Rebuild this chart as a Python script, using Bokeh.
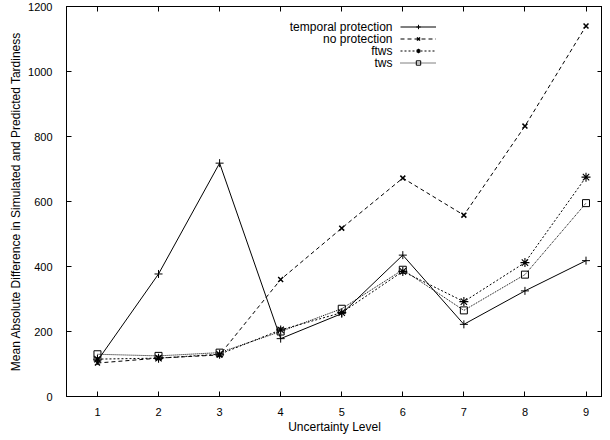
from bokeh.plotting import figure
from bokeh.models import (LinearAxis, Range1d, FixedTicker, Legend, LegendItem, Label,
                          CustomLabelingPolicy)
from bokeh.core.properties import value
from bokeh.embed import file_html
from bokeh.resources import INLINE

levels = [1, 2, 3, 4, 5, 6, 7, 8, 9]
temporal_protection = [110, 377, 718, 178, 255, 435, 222, 325, 418]
no_protection = [103, 118, 128, 360, 518, 672, 558, 832, 1140]
ftws = [115, 118, 130, 205, 258, 385, 292, 412, 675]
tws = [130, 125, 135, 200, 270, 390, 265, 375, 595]
series_names = ["temporal protection", "no protection", "ftws", "tws"]
y_ticks = [0, 200, 400, 600, 800, 1000, 1200]
x_ticks = levels

FONT = "Liberation Sans"
H = 436
TOP = 6
BOTTOM = 39

p = figure(width=602, height=H, output_backend="svg", toolbar_location=None,
           x_range=Range1d(0.493, 9.27), y_range=Range1d(0, 1200),
           min_border_left=66, min_border_right=0, min_border_top=TOP, min_border_bottom=BOTTOM,
           x_axis_label="Uncertainty Level",
           y_axis_label="Mean Absolute Difference in Simulated and Predicted Tardiness")
p.xgrid.visible = False
p.ygrid.visible = False
p.outline_line_color = "black"
p.outline_line_width = 1
p.background_fill_color = "white"
p.border_fill_color = "white"

p.add_layout(LinearAxis(), "above")
p.add_layout(LinearAxis(), "right")

for ax in p.xaxis:
    ax.ticker = FixedTicker(ticks=x_ticks)
for ax in p.yaxis:
    ax.ticker = FixedTicker(ticks=y_ticks)
for ax in p.axis:
    ax.major_tick_in = 5
    ax.major_tick_out = 0
    ax.minor_tick_line_color = None
    ax.axis_line_color = "black"
    ax.major_tick_line_color = "black"
    ax.major_label_text_font = FONT
    ax.major_label_text_font_size = "11px"
    ax.major_label_text_color = "black"
    ax.axis_label_text_font = FONT
    ax.axis_label_text_font_size = "12px"
    ax.axis_label_text_font_style = "normal"
    ax.axis_label_text_color = "black"

# mirror axes: ticks only, no labels drawn
hide_all = CustomLabelingPolicy(code="""
    const ids = [...indices]
    for (const i of ids) indices.unset(i)
    return indices
""")
for ax in (p.above[0], p.right[0]):
    ax.major_label_policy = hide_all
    ax.major_label_text_font_size = "0px"
    ax.major_label_standoff = 0
    ax.axis_label_standoff = 0

p.below[0].major_label_standoff = 11
p.below[0].axis_label_standoff = 1
p.left[0].major_label_standoff = 14
p.left[0].axis_label_standoff = 2

items = []
styles = [
    (temporal_protection, None, "cross", 8, 1, "black"),
    (no_protection, "4 3", "x", 7, 1.5, "black"),
    (ftws, "2 2", "asterisk", 9, 1.1, "black"),
    (tws, "1 1", "square", 7, 1, None),
]
for name, (ys, dash, marker, size, mlw, fill) in zip(series_names, styles):
    if dash is None:
        ln = p.line(levels, ys, line_color="black", line_width=1)
    else:
        ln = p.line(levels, ys, line_color="black", line_width=1, line_dash=dash)
    sc = p.scatter(levels, ys, marker=marker, size=size, line_color="black",
                   line_width=mlw, fill_color=fill)
    items.append(LegendItem(label=value(" "), renderers=[ln, sc]))

frame_h = H - TOP - BOTTOM
row1 = 21
legend = Legend(items=items, location=(334, frame_h - (row1 - 6) - 48),
                glyph_width=36, glyph_height=11, label_height=11, label_width=0,
                label_standoff=0, spacing=1, padding=0, margin=0,
                border_line_color=None, background_fill_alpha=0,
                label_text_font_size="1px")
p.add_layout(legend)

for i, name in enumerate(series_names):
    p.add_layout(Label(x=326, y=frame_h - row1 - 12 * i, x_units="screen", y_units="screen",
                       text=name, text_align="right", text_baseline="middle",
                       text_font=FONT, text_font_size="12px", text_color="black"))

open("out.html", "w").write(file_html(p, INLINE))
